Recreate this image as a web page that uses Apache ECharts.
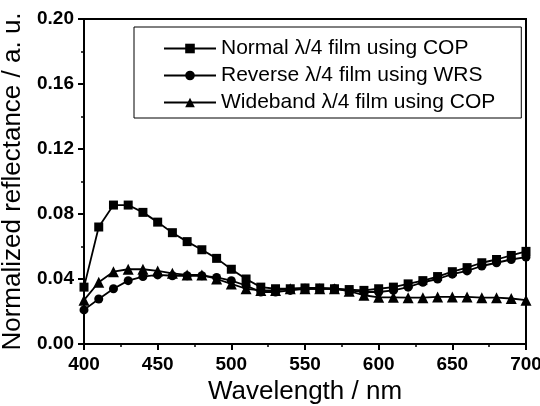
<!DOCTYPE html>
<html><head><meta charset="utf-8">
<script src="https://cdn.jsdelivr.net/npm/echarts@6/dist/echarts.min.js"></script>
<style>html,body{margin:0;padding:0;background:#fff}#c{width:540px;height:406px}</style>
</head><body><div id="c"></div>
<script>
const wavelengths = [400,410,420,430,440,450,460,470,480,490,500,510,520,530,540,550,560,570,580,590,600,610,620,630,640,650,660,670,680,690,700];
const normalCOP = [0.035,0.072,0.0855,0.0855,0.081,0.075,0.0685,0.063,0.058,0.0527,0.046,0.040,0.035,0.034,0.034,0.0345,0.0345,0.034,0.0335,0.033,0.034,0.035,0.037,0.039,0.0415,0.0445,0.047,0.050,0.052,0.0545,0.057];
const reverseWRS = [0.021,0.0277,0.034,0.039,0.0415,0.0425,0.042,0.042,0.042,0.041,0.039,0.036,0.032,0.032,0.033,0.034,0.034,0.034,0.033,0.032,0.032,0.033,0.035,0.038,0.040,0.043,0.045,0.048,0.050,0.052,0.0535];
const widebandCOP = [0.027,0.038,0.0445,0.046,0.046,0.045,0.0435,0.0425,0.0425,0.040,0.037,0.034,0.033,0.033,0.034,0.034,0.034,0.034,0.0325,0.030,0.0287,0.0287,0.0285,0.0285,0.029,0.029,0.029,0.0285,0.0285,0.028,0.027];
const seriesNames = ['Normal \u03bb/4 film using COP','Reverse \u03bb/4 film using WRS','Wideband \u03bb/4 film using COP'];
const xTicks = [400,450,500,550,600,650,700];
const yTicks = [0.00,0.04,0.08,0.12,0.16,0.20];

const chart = echarts.init(document.getElementById('c'));
const pair = arr => wavelengths.map((w,i)=>[w,arr[i]]);
const mk = (name, data, symbol, size) => ({
  name, type:'line', data: pair(data), symbol, symbolSize: size,
  lineStyle:{color:'#000', width:1.8}, itemStyle:{color:'#000'},
  animation:false, z: 3
});
chart.setOption({
  animation:false,
  backgroundColor:'#fff',
  textStyle:{fontFamily:'Liberation Sans, Arial, sans-serif'},
  grid:{left:84,right:14,top:19,bottom:62,show:true,borderColor:'#000',borderWidth:2,backgroundColor:'transparent',
        containLabel:false, outerBoundsMode:'none'},
  legend:{
    orient:'vertical', left:134, top:27,
    padding:[11,26,5,29], itemGap:6, itemWidth:52, itemHeight:12,
    borderColor:'#000', borderWidth:1, borderRadius:0,
    textStyle:{fontSize:21, color:'#000', fontFamily:'Liberation Sans, Arial, sans-serif', lineHeight:21},
    data: seriesNames
  },
  xAxis:{
    type:'value', min:400, max:700, interval:50,
    name:'Wavelength / nm', nameLocation:'middle', nameGap:35,
    nameTextStyle:{fontSize:26, color:'#000'},
    axisLine:{onZero:false, lineStyle:{color:'#000', width:2}},
    axisTick:{inside:false, length:6, lineStyle:{color:'#000', width:2}},
    minorTick:{show:true, splitNumber:2, length:3, lineStyle:{color:'#000', width:1.5}},
    axisLabel:{fontSize:19, fontWeight:'bold', color:'#000', margin:11,
      formatter: v => xTicks.includes(v) ? String(v) : ''},
    splitLine:{show:false}
  },
  yAxis:{
    type:'value', min:0, max:0.2, interval:0.04,
    name:'Normalized reflectance / a. u.', nameLocation:'middle', nameGap:48,
    nameTextStyle:{fontSize:26, color:'#000'},
    axisLine:{onZero:false, lineStyle:{color:'#000', width:2}},
    axisTick:{inside:false, length:6, lineStyle:{color:'#000', width:2}},
    minorTick:{show:true, splitNumber:2, length:3, lineStyle:{color:'#000', width:1.5}},
    axisLabel:{fontSize:19, fontWeight:'bold', color:'#000', margin:10,
      formatter: v => { const t = yTicks.find(y => Math.abs(y-v)<1e-9); return t===undefined ? '' : t.toFixed(2); }},
    splitLine:{show:false}
  },
  series:[
    mk(seriesNames[0], normalCOP, 'rect', 9),
    mk(seriesNames[1], reverseWRS, 'circle', 9),
    mk(seriesNames[2], widebandCOP, 'triangle', 11)
  ]
});
</script></body></html>
